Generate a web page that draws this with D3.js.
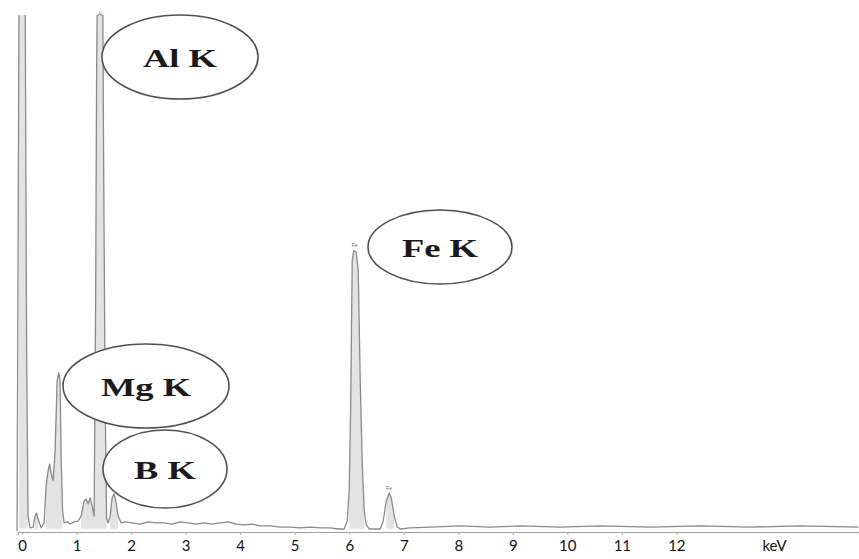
<!DOCTYPE html>
<html>
<head>
<meta charset="utf-8">
<script src="https://cdn.jsdelivr.net/npm/d3@7/dist/d3.min.js"></script>
<style>
  html, body { margin: 0; padding: 0; background: #fff; }
  svg { display: block; }
</style>
</head>
<body>
<svg id="chart" width="859" height="559"></svg>
<script>
// EDS spectrum: energy (keV) and counts per channel
const energy = [
  -0.092, -0.055, 0.055, 0.083, 0.110, 0.147, 0.202, 0.239, 0.266, 0.294,
  0.349, 0.404, 0.440, 0.477, 0.505, 0.532, 0.569, 0.606, 0.642, 0.670,
  0.697, 0.716, 0.743, 0.771, 0.826, 0.881, 0.954, 1.028, 1.083, 1.138,
  1.174, 1.211, 1.248, 1.284, 1.321, 1.349, 1.367, 1.385, 1.477, 1.495,
  1.523, 1.550, 1.578, 1.615, 1.651, 1.688, 1.725, 1.761, 1.817,
  1.890, 2.018, 2.165, 2.312, 2.459, 2.606, 2.752, 2.899, 3.046, 3.193,
  3.339, 3.486, 3.633, 3.780, 3.927, 4.073, 4.220, 4.367, 4.550, 4.734,
  4.917, 5.101, 5.284, 5.468, 5.651, 5.798,
  5.908, 5.963, 6.000, 6.028, 6.055, 6.083, 6.128, 6.165, 6.202, 6.239,
  6.275, 6.312, 6.367, 6.459, 6.532,
  6.569, 6.624, 6.679, 6.734, 6.771, 6.826, 6.881, 6.936,
  7.119, 7.486, 8.037, 8.587, 9.138, 9.872, 10.606, 11.523, 12.440, 13.358,
  14.275, 15.339
];
const counts = [
  5, 2600, 2600, 842, 74, 19, 23, 74, 88, 60,
  19, 42, 214, 284, 316, 274, 237, 377, 702, 740,
  702, 353, 98, 42, 47, 37, 47, 51, 74, 144,
  153, 130, 158, 121, 74, 1074, 2140, 2600, 2600, 1749,
  609, 65, 42, 74, 158, 177, 135, 74, 42,
  47, 42, 37, 47, 42, 42, 37, 47, 42, 37,
  42, 37, 42, 47, 37, 33, 37, 28, 28, 23,
  23, 19, 23, 19, 19, 14,
  14, 51, 191, 609, 1260, 1307, 1300, 1214, 702, 316,
  98, 33, 14, 14, 14,
  14, 51, 144, 181, 158, 74, 23, 14,
  19, 23, 28, 23, 28, 23, 28, 23, 28, 23,
  28, 23
];

// Axis ticks
const tickValues = [0, 1, 2, 3, 4, 5, 6, 7, 8, 9, 10, 11, 12];
const unitLabel = "keV";
const unitLabelAt = 13.8;

// Small element tags printed over peak tops
const peakTags = ["Al", "Fe", "Fe"];
const peakTagEnergy = [1.43, 6.10, 6.73];
const peakTagCounts = [2600, 1307, 181];

// Element callouts
const calloutText = ["Al K", "Fe K", "Mg K", "B K"];

// --- layout (pixels) ---
const svg = d3.select("#chart");
const plotTop = 15, axisY = 532;
const x = d3.scaleLinear().domain([-0.075, 15.35]).range([18, 859]);
const y = d3.scaleLinear().domain([0, 2400]).range([axisY, plotTop]);

const calloutLayout = [
  { cx: 180, cy: 57,  rx: 78, ry: 42 },
  { cx: 440, cy: 247, rx: 72, ry: 37 },
  { cx: 146, cy: 386, rx: 83, ry: 42 },
  { cx: 165, cy: 469, rx: 62, ry: 39 }
];

svg.append("defs").append("clipPath").attr("id", "plotClip")
  .append("rect").attr("x", 0).attr("y", plotTop).attr("width", 859).attr("height", axisY - plotTop);

const pts = energy.map((e, i) => ({ e, c: counts[i] }));

const spec = svg.append("g").attr("clip-path", "url(#plotClip)");

// peak shading
spec.append("path")
  .datum(pts)
  .attr("fill", "#e3e3e3")
  .attr("d", d3.area()
    .defined(d => d.c >= 60)
    .x(d => x(d.e))
    .y0(y(15))
    .y1(d => y(d.c)));

// spectrum trace
spec.append("path")
  .datum(pts)
  .attr("fill", "none")
  .attr("stroke", "#8a8a8a")
  .attr("stroke-width", 1.3)
  .attr("stroke-linejoin", "round")
  .attr("d", d3.line().x(d => x(d.e)).y(d => y(d.c)));

// peak tags
svg.append("g").selectAll("text")
  .data(peakTags)
  .join("text")
  .attr("x", (d, i) => x(peakTagEnergy[i]))
  .attr("y", (d, i) => Math.max(y(peakTagCounts[i]), plotTop + 4) - 3)
  .attr("text-anchor", "middle")
  .attr("font-family", "Liberation Sans, Arial, sans-serif")
  .attr("font-size", 5)
  .attr("fill", "#666")
  .text(d => d);

// x axis
const axis = svg.append("g")
  .attr("transform", `translate(0,${axisY})`)
  .call(d3.axisBottom(x).tickValues(tickValues).tickSize(3).tickPadding(5).tickFormat(d3.format("d")));
axis.select(".domain").attr("stroke", "#a0a0a0").attr("stroke-width", 1.2);
axis.selectAll(".tick line").attr("stroke", "#b0b0b0");
axis.selectAll(".tick text")
  .attr("font-family", "Lato, 'Open Sans', sans-serif")
  .attr("font-size", 15)
  .attr("fill", "#111");

axis.append("text")
  .attr("x", x(unitLabelAt))
  .attr("y", 8)
  .attr("dy", "0.71em")
  .attr("text-anchor", "middle")
  .attr("font-family", "Lato, 'Open Sans', sans-serif")
  .attr("font-size", 15)
  .attr("fill", "#111")
  .text(unitLabel);

// callout ellipses
const callouts = svg.append("g").selectAll("g")
  .data(calloutText)
  .join("g")
  .attr("transform", (d, i) => `translate(${calloutLayout[i].cx},${calloutLayout[i].cy})`);

callouts.append("ellipse")
  .attr("rx", (d, i) => calloutLayout[i].rx)
  .attr("ry", (d, i) => calloutLayout[i].ry)
  .attr("fill", "#fff")
  .attr("stroke", "#505050")
  .attr("stroke-width", 1.6);

callouts.append("text")
  .attr("transform", "translate(0,10) scale(1.46,1)")
  .attr("text-anchor", "middle")
  .attr("font-family", "'Liberation Serif', 'Times New Roman', serif")
  .attr("font-weight", "bold")
  .attr("font-size", 25)
  .attr("fill", "#1a1a1a")
  .text(d => d);
</script>
</body>
</html>
